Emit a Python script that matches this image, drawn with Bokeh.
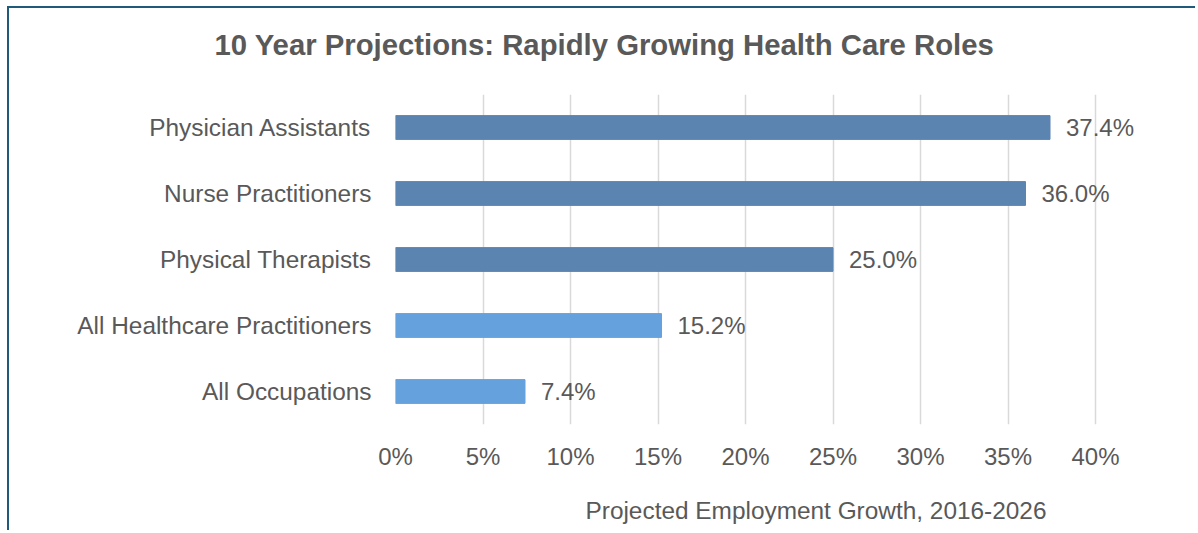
from bokeh.plotting import figure
from bokeh.models import (Range1d, FactorRange, ColumnDataSource, FixedTicker,
                          CustomJSTickFormatter, Title, LinearAxis)
from bokeh.core.properties import value
from bokeh.embed import file_html
from bokeh.resources import INLINE

categories = ["Physician Assistants", "Nurse Practitioners", "Physical Therapists",
              "All Healthcare Practitioners", "All Occupations"]
growth = [37.4, 36.0, 25.0, 15.2, 7.4]
labels = ["37.4%", "36.0%", "25.0%", "15.2%", "7.4%"]
colors = ["#5b84b1", "#5b84b1", "#5b84b1", "#65a1dd", "#65a1dd"]
ticks = [0, 5, 10, 15, 20, 25, 30, 35, 40]

FONT = "Liberation Sans"
TXT = "#595959"

src = ColumnDataSource(dict(cat=categories, val=growth, lab=labels, col=colors))

p = figure(width=1188, height=524, output_backend="svg", toolbar_location=None,
           y_range=FactorRange(*list(reversed(categories))), x_range=Range1d(0, 44),
           min_border_left=386, min_border_right=32, min_border_top=86, min_border_bottom=108)
p.styles = {"border-top": "2px solid #1f5a7a", "border-left": "2px solid #1f5a7a",
            "margin-left": "7px", "margin-top": "6px"}
p.outline_line_color = None
p.background_fill_color = "white"
p.border_fill_color = "white"

p.hbar(y="cat", right="val", left=0, height=0.36, color="col", source=src)
p.text(x="val", y="cat", text="lab", source=src, x_offset=16, text_baseline="middle",
       text_align="left", text_font=value(FONT), text_font_size="24px", text_color=TXT)

p.ygrid.grid_line_color = None
p.xgrid.grid_line_color = "#d9d9d9"
p.xgrid.grid_line_width = 1.5

p.xaxis.ticker = FixedTicker(ticks=ticks)
p.xaxis.formatter = CustomJSTickFormatter(code="return tick + '%';")
for ax in (p.xaxis, p.yaxis):
    ax.axis_line_color = None
    ax.major_tick_line_color = None
    ax.minor_tick_line_color = None
    ax.major_tick_out = 0
    ax.major_tick_in = 0
    ax.minor_tick_out = 0
    ax.major_label_text_font = FONT
    ax.major_label_text_color = TXT
p.xaxis.major_label_text_font_size = "24px"
p.yaxis.major_label_text_font_size = "24.4px"
p.xaxis.major_label_standoff = 18
p.yaxis.major_label_standoff = 24


def spacer(size):
    # invisible axis used only to reserve vertical space in a side panel
    return LinearAxis(ticker=FixedTicker(ticks=[0]), axis_line_color=None,
                      major_tick_line_color="white", minor_tick_line_color=None,
                      major_tick_out=size, major_tick_in=0, minor_tick_out=0,
                      formatter=CustomJSTickFormatter(code="return '';"),
                      major_label_text_font_size="1px", major_label_standoff=0)


p.add_layout(spacer(32), "above")
p.add_layout(Title(text="10 Year Projections: Rapidly Growing Health Care Roles",
                   align="left", offset=-181, vertical_align="top", standoff=0,
                   text_font=FONT, text_font_style="bold", text_font_size="29.3px",
                   text_color=TXT), "above")
p.add_layout(spacer(24), "below")
p.add_layout(Title(text="Projected Employment Growth, 2016-2026",
                   align="left", offset=190, vertical_align="top", standoff=0,
                   text_font=FONT, text_font_style="normal", text_font_size="24.4px",
                   text_color=TXT), "below")

open("out.html", "w").write(file_html(p, INLINE))
